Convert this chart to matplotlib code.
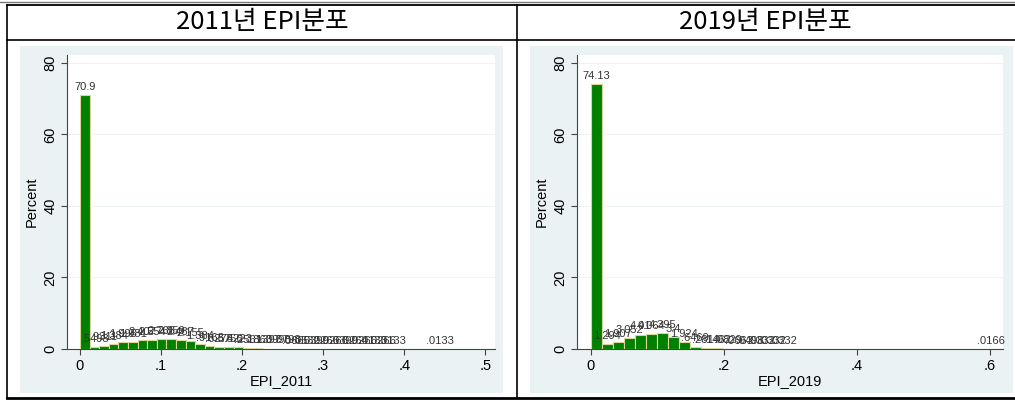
import matplotlib
matplotlib.use("Agg")
import matplotlib.pyplot as plt
from matplotlib.patches import Rectangle
from matplotlib.lines import Line2D
import numpy as np

W, H = 1015, 400

# ---- data (percent per bin, Stata-style histogram) ----
titles = ['2011년 EPI분포', '2019년 EPI분포']
xlabels = ['EPI_2011', 'EPI_2019']

pct_2011 = [70.9, .5493, .9311, 1.384, 1.995, 1.981, 2.407, 2.554, 2.766, 2.859,
            2.487, 2.155, 1.384, .9163, .6278, .5756, .4223, .2561, .1863, .1397,
            .0998, .0798, .0665, .0532, .0399, .0266, .0266, .0399, .0264, .0266,
            .0133, .0266, .0133, 0, 0, 0, 0, .0133]
max_2011 = 0.45

pct_2019 = [74.13, 1.294, 1.907, 3.052, 4.01, 4.064, 4.395, 3.4, 1.924, .6469,
            .2814, .1462, .0829, .0663, .0498, .0332, .0332, .0332, 0, 0,
            0, 0, 0, 0, 0, 0, 0, 0, 0, 0,
            0, 0, 0, 0, 0, 0, .0166]
max_2019 = 0.61

xticks_2011 = [0, .1, .2, .3, .4, .5]
xtick_lab_2011 = ['0', '.1', '.2', '.3', '.4', '.5']
xticks_2019 = [0, .2, .4, .6]
xtick_lab_2019 = ['0', '.2', '.4', '.6']
yticks = [0, 20, 40, 60, 80]


def px(x0, y0, x1, y1):
    # pixel box (top-left origin) -> figure fraction rect
    return [x0 / W, 1 - y1 / H, (x1 - x0) / W, (y1 - y0) / H]


def stata_fmt(v):
    s = f"{v:.4g}"
    if s.startswith('0.'):
        s = s[1:]
    return s


fig = plt.figure(figsize=(W / 100, H / 100), dpi=100)
fig.patch.set_facecolor('white')

# table lines
def hline(y, x0, x1, color='black', lw=1.2):
    fig.add_artist(Line2D([x0 / W, x1 / W], [1 - y / H, 1 - y / H], color=color, lw=lw))


def vline(x, y0, y1, color='black', lw=1.2):
    fig.add_artist(Line2D([x / W, x / W], [1 - y0 / H, 1 - y1 / H], color=color, lw=lw))


hline(1.5, 0, W, color='#777777', lw=1.0)
hline(5, 7, W, lw=1.3)
hline(40, 7, W, lw=1.2)
hline(397.5, 7, W, lw=2.0)
vline(7, 5, 398)
vline(517, 5, 398)

font_kr = ['Noto Sans CJK KR', 'DejaVu Sans']
fig.text(262 / W, 1 - 22 / H, titles[0], ha='center', va='center', fontsize=18.5,
         family=font_kr, fontweight='light')
fig.text(765 / W, 1 - 22 / H, titles[1], ha='center', va='center', fontsize=18.5,
         family=font_kr, fontweight='light')

panels = [
    dict(pct=pct_2011, xmax=max_2011, bg=(20, 46, 503, 393), ax=(67, 55, 495, 349),
         xlim=(-0.016, 0.512), xt=xticks_2011, xtl=xtick_lab_2011, xl=xlabels[0]),
    dict(pct=pct_2019, xmax=max_2019, bg=(530, 46, 1013, 393), ax=(577, 55, 1003, 349),
         xlim=(-0.021, 0.62), xt=xticks_2019, xtl=xtick_lab_2019, xl=xlabels[1]),
]

for p in panels:
    bx0, by0, bx1, by1 = p['bg']
    fig.add_artist(Rectangle((bx0 / W, 1 - by1 / H), (bx1 - bx0) / W, (by1 - by0) / H,
                             transform=fig.transFigure, facecolor='#eaf2f3', edgecolor='none', zorder=0))
    ax = fig.add_axes(px(*p['ax']))
    ax.set_facecolor('white')

    vals = np.array(p['pct'])
    nb = len(vals)
    w = p['xmax'] / nb
    lefts = np.arange(nb) * w
    ax.bar(lefts, vals, width=w, align='edge', color='#008000', edgecolor='#d8d69a', linewidth=0.8, zorder=3)
    for l, v in zip(lefts, vals):
        if v > 0:
            ax.text(l + w / 2, v + 0.9, stata_fmt(v), ha='center', va='bottom', fontsize=8,
                    color='#333333', family='Liberation Sans', zorder=4)

    ax.set_xlim(*p['xlim'])
    ax.set_ylim(0, 82.2)
    for yv in yticks[1:]:
        ax.axhline(yv, color='#eef3f4', lw=0.8, zorder=1)

    for s in ['top', 'right']:
        ax.spines[s].set_visible(False)
    for s in ['left', 'bottom']:
        ax.spines[s].set_color('#444444')
        ax.spines[s].set_linewidth(0.8)

    ax.set_xticks(p['xt'])
    ax.set_xticklabels(p['xtl'], fontsize=10.5, family='Liberation Sans')
    ax.set_yticks(yticks)
    ax.set_yticklabels([str(v) for v in yticks], fontsize=10.5, family='Liberation Sans',
                       rotation=90, va='center')
    ax.tick_params(direction='out', length=4, width=0.8, color='#444444', pad=3)
    ax.set_xlabel(p['xl'], fontsize=10.5, family='Liberation Sans', labelpad=1)
    ax.set_ylabel('Percent', fontsize=10.5, family='Liberation Sans', labelpad=3)

fig.savefig('out.png', dpi=100)
